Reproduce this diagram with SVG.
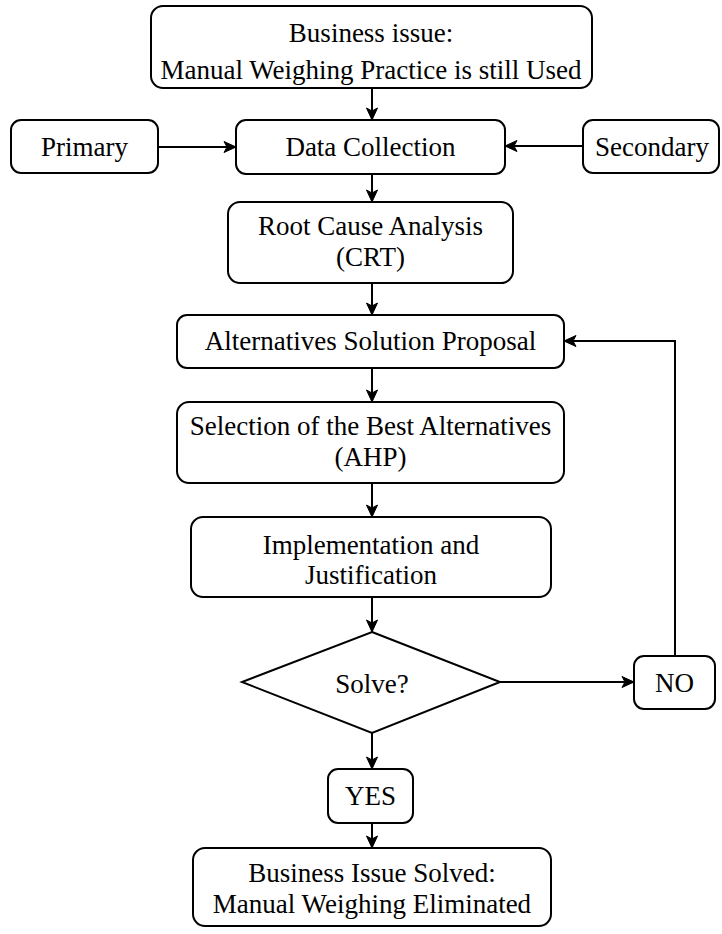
<svg xmlns="http://www.w3.org/2000/svg" width="722" height="934" viewBox="0 0 722 934">
  <style>
    .box { fill: #ffffff; stroke: #000000; stroke-width: 2; }
    .lbl { font-family: "Liberation Serif", "Times New Roman", serif; font-size: 27px; fill: #000000; text-anchor: middle; }
    .edge { fill: none; stroke: #000000; stroke-width: 2; marker-end: url(#arrow); }
  </style>
  <defs>
    <marker id="arrow" markerUnits="userSpaceOnUse" markerWidth="14" markerHeight="14" refX="13" refY="7" orient="auto">
      <path d="M1,1.5 L13,7 L1,12.5 L4,7 Z" fill="#000000" stroke="#000000" stroke-width="1" stroke-linejoin="miter"/>
    </marker>
  </defs>

  <!-- connectors -->
  <g id="connectors">
    <line class="edge" x1="372" y1="88" x2="372" y2="120"/>
    <line class="edge" x1="158" y1="147" x2="236" y2="147"/>
    <line class="edge" x1="583" y1="146" x2="505" y2="146"/>
    <line class="edge" x1="372" y1="174" x2="372" y2="202"/>
    <line class="edge" x1="372" y1="283" x2="372" y2="315"/>
    <line class="edge" x1="372" y1="368" x2="372" y2="402"/>
    <line class="edge" x1="372" y1="483" x2="372" y2="517"/>
    <line class="edge" x1="372" y1="597" x2="372" y2="632"/>
    <line class="edge" x1="500" y1="682" x2="634" y2="682"/>
    <polyline class="edge" points="675,656 675,341 564,341"/>
    <line class="edge" x1="372" y1="733" x2="372" y2="769"/>
    <line class="edge" x1="372" y1="823" x2="372" y2="848"/>
  </g>

  <g id="business-issue">
    <rect class="box" x="151" y="6" width="441" height="82" rx="12"/>
    <text class="lbl" x="371" y="42">Business issue:</text>
    <text class="lbl" x="371" y="79">Manual Weighing Practice is still Used</text>
  </g>

  <g id="primary">
    <rect class="box" x="11" y="120" width="147" height="53" rx="10"/>
    <text class="lbl" x="84.5" y="156">Primary</text>
  </g>

  <g id="data-collection">
    <rect class="box" x="236" y="120" width="269" height="54" rx="10"/>
    <text class="lbl" x="370.5" y="156">Data Collection</text>
  </g>

  <g id="secondary">
    <rect class="box" x="583" y="120" width="136" height="53" rx="10"/>
    <text class="lbl" x="652" y="156">Secondary</text>
  </g>

  <g id="root-cause">
    <rect class="box" x="228" y="202" width="285" height="81" rx="12"/>
    <text class="lbl" x="370.5" y="235">Root Cause Analysis</text>
    <text class="lbl" x="370.5" y="266">(CRT)</text>
  </g>

  <g id="alternatives">
    <rect class="box" x="177" y="315" width="387" height="53" rx="10"/>
    <text class="lbl" x="370.5" y="350">Alternatives Solution Proposal</text>
  </g>

  <g id="selection">
    <rect class="box" x="177" y="402" width="387" height="81" rx="12"/>
    <text class="lbl" x="370.5" y="435">Selection of the Best Alternatives</text>
    <text class="lbl" x="370.5" y="466">(AHP)</text>
  </g>

  <g id="implementation">
    <rect class="box" x="191" y="517" width="360" height="80" rx="12"/>
    <text class="lbl" x="371" y="554">Implementation and</text>
    <text class="lbl" x="371" y="584">Justification</text>
  </g>

  <g id="solve">
    <polygon class="box" points="372,632 500,682 372,733 242,682"/>
    <text class="lbl" x="372" y="693">Solve?</text>
  </g>

  <g id="no">
    <rect class="box" x="634" y="656" width="81" height="53" rx="10"/>
    <text class="lbl" x="674.5" y="692">NO</text>
  </g>

  <g id="yes">
    <rect class="box" x="328" y="769" width="85" height="54" rx="10"/>
    <text class="lbl" x="370.5" y="805">YES</text>
  </g>

  <g id="issue-solved">
    <rect class="box" x="193" y="848" width="358" height="78" rx="12"/>
    <text class="lbl" x="372" y="882">Business Issue Solved:</text>
    <text class="lbl" x="372" y="913">Manual Weighing Eliminated</text>
  </g>
</svg>
